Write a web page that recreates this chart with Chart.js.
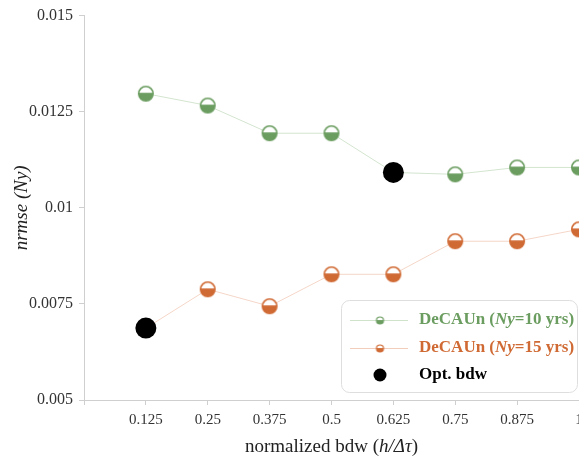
<html>
<head>
<script src="https://cdn.jsdelivr.net/npm/chart.js@4/dist/chart.umd.min.js"></script>
<style>
  body { margin: 0; overflow: hidden; background: #fff; }
  #wrap { position: relative; width: 620px; height: 463px; }
</style>
</head>
<body>
<div id="wrap">
<canvas id="myChart"></canvas>
</div>
<script>
// normalized bandwidth h/dt
var bandwidths = [0.125, 0.25, 0.375, 0.5, 0.625, 0.75, 0.875, 1];
// nrmse for the two record lengths
var nrmse10 = [0.01297, 0.01266, 0.01194, 0.01194, 0.01092, 0.01087, 0.01105, 0.01105];
var nrmse15 = [0.00687, 0.00788, 0.00744, 0.00827, 0.00827, 0.00913, 0.00913, 0.00944];
// index of the optimal bandwidth in each series
var opt10 = 4;
var opt15 = 0;
var yTicks = [0.005, 0.0075, 0.01, 0.0125, 0.015];

var green = "#6b9d60";
var orange = "#d06a34";
var serif = "'Liberation Serif', 'Times New Roman', serif";

// half filled circle marker
function marker(color, r, lw) {
  var size = Math.ceil(2 * r + lw + 2);
  var c = document.createElement('canvas');
  c.width = size; c.height = size;
  var g = c.getContext('2d');
  var m = size / 2;
  g.beginPath(); g.arc(m, m, r, 0, Math.PI * 2);
  g.fillStyle = "#fff"; g.fill();
  g.save();
  g.beginPath(); g.arc(m, m, r, 0, Math.PI * 2); g.clip();
  g.fillStyle = color;
  g.fillRect(0, m - 0.12 * r, size, size);
  g.restore();
  g.beginPath(); g.arc(m, m, r, 0, Math.PI * 2);
  g.lineWidth = lw; g.strokeStyle = color; g.stroke();
  return c;
}

function pts(ys) {
  return bandwidths.map(function(x, i) { return {x: x, y: ys[i]}; });
}

// text made of plain / italic runs
function drawRuns(ctx, runs, x, y, size, weight, color) {
  var total = 0;
  runs.forEach(function(r) {
    ctx.font = (r[1] ? 'italic ' : '') + weight + ' ' + size + 'px ' + serif;
    total += ctx.measureText(r[0]).width;
  });
  var cx = x - total / 2;
  ctx.fillStyle = color;
  ctx.textBaseline = 'middle';
  ctx.textAlign = 'left';
  runs.forEach(function(r) {
    ctx.font = (r[1] ? 'italic ' : '') + weight + ' ' + size + 'px ' + serif;
    ctx.fillText(r[0], cx, y);
    cx += ctx.measureText(r[0]).width;
  });
  return total;
}

function drawRunsLeft(ctx, runs, x, y, size, weight, color) {
  var w = 0;
  runs.forEach(function(r) {
    ctx.font = (r[1] ? 'italic ' : '') + weight + ' ' + size + 'px ' + serif;
    w += ctx.measureText(r[0]).width;
  });
  drawRuns(ctx, runs, x + w / 2, y, size, weight, color);
}

var extras = {
  id: 'extras',
  afterDraw: function(chart) {
    var ctx = chart.ctx;
    var a = chart.chartArea;
    ctx.save();
    // axis titles
    drawRuns(ctx, [["normalized bdw (", false], ["h/\u0394\u03c4", true], [")", false]],
      (a.left + a.right) / 2, 447, 19, 'normal', '#222');
    ctx.save();
    ctx.translate(22, (a.top + a.bottom) / 2);
    ctx.rotate(-Math.PI / 2);
    drawRuns(ctx, [["nrmse (Ny)", true]], 0, 0, 19, 'normal', '#222');
    ctx.restore();

    // legend box
    var bx = 341.5, by = 300.5, bw = 236, bh = 92, rad = 8;
    ctx.beginPath();
    ctx.roundRect(bx, by, bw, bh, rad);
    ctx.fillStyle = '#fff'; ctx.fill();
    ctx.strokeStyle = '#dedede'; ctx.lineWidth = 1; ctx.stroke();

    var rows = [
      {y: 320, color: green, line: '#cfe2ca', mk: smallGreen, text: [["DeCAUn (", false], ["Ny", true], ["=10 yrs)", false]]},
      {y: 348, color: orange, line: '#f2cdbb', mk: smallOrange, text: [["DeCAUn (", false], ["Ny", true], ["=15 yrs)", false]]},
      {y: 375, color: '#000', line: null, mk: null, text: [["Opt. bdw", false]]}
    ];
    rows.forEach(function(r) {
      if (r.line) {
        ctx.beginPath(); ctx.moveTo(350, r.y + 0.5); ctx.lineTo(408, r.y + 0.5);
        ctx.strokeStyle = r.line; ctx.lineWidth = 1; ctx.stroke();
        ctx.drawImage(r.mk, 380 - r.mk.width / 2, r.y - r.mk.height / 2 + 0.5);
      } else {
        ctx.beginPath(); ctx.arc(380, r.y, 6.5, 0, Math.PI * 2);
        ctx.fillStyle = '#000'; ctx.fill();
      }
      drawRunsLeft(ctx, r.text, 419, r.y, 17, 'bold', r.color);
    });
    ctx.restore();
  }
};

var bigGreen = marker(green, 7.2, 1.6);
var bigOrange = marker(orange, 7.2, 1.6);
var smallGreen = marker(green, 3.5, 1.2);
var smallOrange = marker(orange, 3.5, 1.2);

window.onload = function() {
  var ctx = document.getElementById('myChart').getContext('2d');
  var myChart = new Chart(ctx, {
    type: 'scatter',
    data: {
      datasets: [
        {
          label: 'Opt. bdw',
          data: [
            {x: bandwidths[opt10], y: nrmse10[opt10]},
            {x: bandwidths[opt15], y: nrmse15[opt15]}
          ],
          showLine: false,
          pointRadius: 10.5,
          pointBackgroundColor: '#000',
          pointBorderWidth: 0,
          order: 0,
          clip: false
        },
        {
          label: 'DeCAUn (Ny=10 yrs)',
          data: pts(nrmse10),
          showLine: true,
          borderColor: '#d3e5cf',
          borderWidth: 1,
          pointStyle: bigGreen,
          order: 1,
          clip: false
        },
        {
          label: 'DeCAUn (Ny=15 yrs)',
          data: pts(nrmse15),
          showLine: true,
          borderColor: '#f5d6c8',
          borderWidth: 1,
          pointStyle: bigOrange,
          order: 2,
          clip: false
        }
      ]
    },
    options: {
      responsive: true,
      maintainAspectRatio: false,
      animation: false,
      events: [],
      layout: { padding: { top: 15, right: 41, left: 0, bottom: 0 } },
      plugins: { legend: { display: false }, tooltip: { enabled: false } },
      scales: {
        x: {
          type: 'linear',
          min: 0, max: 1,
          afterFit: function(s) { s.height = 63; },
          afterBuildTicks: function(s) { s.ticks = [0].concat(bandwidths).map(function(v) { return {value: v}; }); },
          ticks: {
            color: '#333',
            font: { family: serif, size: 15 },
            padding: 6,
            maxRotation: 0,
            autoSkip: false,
            callback: function(v) { return v === 0 ? '' : String(v); }
          },
          grid: { drawOnChartArea: false, color: '#cfcfcf', tickLength: 5 },
          border: { color: '#cfcfcf' }
        },
        y: {
          min: 0.005, max: 0.015,
          afterFit: function(s) { s.width = 84; },
          afterBuildTicks: function(s) { s.ticks = yTicks.map(function(v) { return {value: v}; }); },
          ticks: {
            color: '#333',
            font: { family: serif, size: 16 },
            padding: 6,
            callback: function(v) { return String(+v.toFixed(4)); }
          },
          grid: { drawOnChartArea: false, color: '#cfcfcf', tickLength: 5 },
          border: { color: '#cfcfcf' }
        }
      }
    },
    plugins: [extras]
  });
};
</script>
</body>
</html>
